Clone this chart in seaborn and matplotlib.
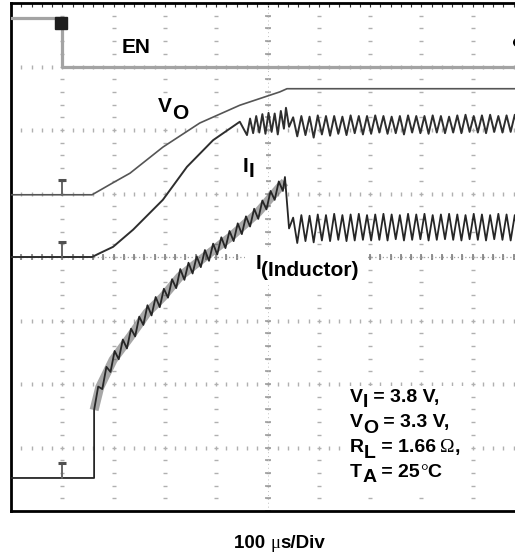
import numpy as np
import pandas as pd
import matplotlib
matplotlib.use("Agg")
import matplotlib.pyplot as plt
import seaborn as sns
from matplotlib.patches import Rectangle
from matplotlib.transforms import Bbox

# ---------------- data (screen divisions: x 0..10, y 0..8) ----------------
trigger_x = 0.99

en_x = [0.0, 0.99, 0.99, 10.2]
en_y = [7.76, 7.76, 7.00, 7.00]

vo_x = [0.0, 1.58, 1.99, 2.32, 2.96, 3.68, 4.46, 5.24, 5.38, 10.2]
vo_y = [4.98, 4.98, 5.17, 5.32, 5.73, 6.11, 6.39, 6.60, 6.65, 6.65]

ii_x = [0.0, 1.58, 1.73, 1.99, 2.38, 2.96, 3.43, 3.94, 4.46]
ii_y = [4.00, 4.00, 4.06, 4.16, 4.43, 4.90, 5.42, 5.84, 6.13]
ii_noise_x = [4.60, 4.66, 4.72, 4.78, 4.84, 4.90, 4.96, 5.02, 5.08, 5.14,
              5.20, 5.26, 5.32, 5.36, 5.42]
ii_noise_y = [5.92, 6.18, 5.95, 6.22, 5.96, 6.25, 5.94, 6.27, 5.97, 6.26,
              5.93, 6.30, 6.02, 6.35, 6.05]

ripple_top_x = [5.50, 5.66, 5.82, 5.98, 6.14, 6.30, 6.46, 6.62, 6.78, 6.94,
                7.10, 7.26, 7.42, 7.58, 7.74, 7.90, 8.06, 8.22, 8.38, 8.54,
                8.70, 8.86, 9.02, 9.18, 9.34, 9.50, 9.66, 9.82, 9.98]
ripple_bot_x = [5.58, 5.74, 5.90, 6.06, 6.22, 6.38, 6.54, 6.70, 6.86, 7.02,
                7.18, 7.34, 7.50, 7.66, 7.82, 7.98, 8.14, 8.30, 8.46, 8.62,
                8.78, 8.94, 9.10, 9.26, 9.42, 9.58, 9.74, 9.90, 10.06]
ii_top = [6.20, 6.22, 6.21, 6.23, 6.22, 6.22, 6.21, 6.23, 6.22, 6.22,
          6.23, 6.22, 6.21, 6.22, 6.23, 6.22, 6.22, 6.23, 6.22, 6.21,
          6.23, 6.24, 6.22, 6.23, 6.24, 6.22, 6.23, 6.24, 6.23]
ii_bot = [5.90, 5.92, 5.88, 5.93, 5.91, 5.94, 5.92, 5.95, 5.93, 5.94,
          5.96, 5.94, 5.95, 5.93, 5.96, 5.95, 5.94, 5.96, 5.95, 5.96,
          5.95, 5.97, 5.96, 5.95, 5.97, 5.96, 5.97, 5.96, 5.97]

ind_base_x = [0.0, 1.62, 1.62]
ind_base_y = [0.52, 0.52, 1.59]
ind_rise_x = [1.62, 1.73, 1.99, 2.32, 2.65, 2.96, 3.29, 3.74, 4.27, 4.80, 5.24, 5.34]
ind_rise_y = [1.59, 1.95, 2.38, 2.74, 3.12, 3.37, 3.69, 3.98, 4.31, 4.69, 5.10, 5.18]
ind_zz_top_x = [1.70, 1.86, 2.02, 2.18, 2.34, 2.50, 2.66, 2.82, 2.98, 3.14, 3.30, 3.46,
                3.62, 3.78, 3.94, 4.10, 4.26, 4.42, 4.58, 4.74, 4.90, 5.06, 5.22]
ind_zz_top_y = [1.96, 2.27, 2.52, 2.70, 2.87, 3.06, 3.24, 3.37, 3.50, 3.65, 3.81, 3.91,
                4.01, 4.11, 4.21, 4.31, 4.41, 4.53, 4.64, 4.76, 4.89, 5.04, 5.19]
ind_zz_bot_x = [1.78, 1.94, 2.10, 2.26, 2.42, 2.58, 2.74, 2.90, 3.06, 3.22, 3.38, 3.54,
                3.70, 3.86, 4.02, 4.18, 4.34, 4.50, 4.66, 4.82, 4.98, 5.14, 5.30]
ind_zz_bot_y = [1.92, 2.19, 2.39, 2.56, 2.75, 2.93, 3.08, 3.21, 3.36, 3.51, 3.64, 3.74,
                3.84, 3.94, 4.04, 4.14, 4.25, 4.36, 4.48, 4.60, 4.75, 4.90, 5.04]
ind_spike_x = [5.34, 5.42]
ind_spike_y = [5.26, 4.45]
ind_top = [4.62, 4.66, 4.65, 4.67, 4.66, 4.68, 4.66, 4.67, 4.68, 4.66,
           4.67, 4.68, 4.67, 4.66, 4.68, 4.67, 4.68, 4.66, 4.67, 4.68,
           4.67, 4.66, 4.68, 4.67, 4.66, 4.68, 4.67, 4.66, 4.67]
ind_bot = [4.22, 4.25, 4.23, 4.26, 4.25, 4.27, 4.25, 4.26, 4.27, 4.26,
           4.27, 4.26, 4.28, 4.26, 4.27, 4.28, 4.26, 4.27, 4.28, 4.27,
           4.26, 4.28, 4.27, 4.26, 4.28, 4.27, 4.26, 4.28, 4.27]

gnd_vo = [4.98, 5.22]
gnd_ii = [4.00, 4.24]
gnd_ind = [0.52, 0.76]

# ---------------- assemble traces ----------------
def interleave(ax_, ay_, bx_, by_):
    xs, ys = [], []
    for a, b, c, d in zip(ax_, ay_, bx_, by_):
        xs += [a, c]
        ys += [b, d]
    return xs, ys

ii_rx, ii_ry = interleave(ripple_top_x, ii_top, ripple_bot_x, ii_bot)
ii_full_x = ii_x + ii_noise_x + ii_rx
ii_full_y = ii_y + ii_noise_y + ii_ry

zz_x, zz_y = interleave(ind_zz_top_x, ind_zz_top_y, ind_zz_bot_x, ind_zz_bot_y)
ind_rx, ind_ry = interleave(ripple_top_x, ind_top, ripple_bot_x, ind_bot)
ind_full_x = ind_base_x + zz_x + ind_spike_x + ind_rx
ind_full_y = ind_base_y + zz_y + ind_spike_y + ind_ry

# ---------------- figure ----------------
sns.set_style("white")
plt.rcParams['font.family'] = ['Liberation Sans', 'DejaVu Sans']

W, H = 515, 554
fig = plt.figure(figsize=(W / 100, H / 100), dpi=100)
ax = fig.add_axes([11 / W, 43 / H, 513 / W, 508 / H])
ax.set_xlim(0, 10)
ax.set_ylim(0, 8)

# graticule
minor_x = np.arange(0, 10.001, 0.2)
minor_y = np.arange(0, 8.001, 0.2)
gcol = '#b0b0b0'
for xv in range(1, 10):
    ax.plot(np.full_like(minor_y, xv), minor_y, ls='none', marker='_',
            ms=3, mew=1.0, color=gcol, zorder=1)
for yv in range(1, 8):
    ax.plot(minor_x, np.full_like(minor_x, yv), ls='none', marker='|',
            ms=2.5, mew=1.0, color=gcol, zorder=1)
# center cross with ticks
ax.plot(np.full_like(minor_y, 5), minor_y, ls='none', marker='_', ms=4.5,
        mew=1.1, color='#999999', zorder=1)
ax.plot(minor_x, np.full_like(minor_x, 4), ls='none', marker='|', ms=4.5,
        mew=1.2, color='#808080', zorder=1)
ax.plot([5, 5], [0, 8], ls=(0, (1, 3)), lw=0.7, color='#c0c0c0', zorder=1)
ax.plot([0, 10], [4, 4], ls=(0, (1, 2)), lw=0.9, color='#a0a0a0', zorder=1)

# traces
sns.lineplot(x=en_x, y=en_y, sort=False, estimator=None, color='#a3a3a3',
             lw=2.3, ax=ax, zorder=3, legend=False)
sns.lineplot(x=vo_x, y=vo_y, sort=False, estimator=None, color='#555555',
             lw=1.2, ax=ax, zorder=3, legend=False)
sns.lineplot(x=ii_full_x, y=ii_full_y, sort=False, estimator=None,
             color='#2e2e2e', lw=1.4, ax=ax, zorder=3, legend=False)
sns.lineplot(x=ind_rise_x, y=ind_rise_y, sort=False, estimator=None,
             color='#505050', lw=6.5, alpha=0.5, ax=ax, zorder=3, legend=False,
             solid_capstyle='butt')
sns.lineplot(x=ind_full_x, y=ind_full_y, sort=False, estimator=None,
             color='#262626', lw=1.3, ax=ax, zorder=3, legend=False)

# ground reference markers
for g in (gnd_vo, gnd_ii, gnd_ind):
    ax.plot([trigger_x, trigger_x], g, color='#666666', lw=1.4, zorder=3)
    ax.plot([trigger_x], [g[1]], marker='_', ms=6, mew=2.2, color='#505050', zorder=3)

# trigger marker and channel marker
ax.plot([trigger_x - 0.02], [7.68], marker='s', ms=9, color='#1e1e1e', zorder=4)
ax.plot([9.86], [7.39], marker='o', ms=5.5, color='black', zorder=4, clip_on=False)

# frame
for side in ('left', 'top', 'bottom', 'right'):
    ax.spines[side].set_linewidth(2.0)
    ax.spines[side].set_color('black')
ax.set_xticks(np.arange(0, 10.01, 1))
ax.set_yticks(np.arange(0, 8.01, 1))
ax.set_xticks(minor_x, minor=True)
ax.set_yticks(minor_y, minor=True)
ax.tick_params(which='both', direction='in', length=3, width=0.8, color='#333333',
               top=True, right=True, labelbottom=False, labelleft=False)
ax.set_xlabel('')
ax.set_ylabel('')

# ---------------- texts ----------------
BOLD = ['Liberation Sans', 'DejaVu Sans']
SYM = ['Liberation Serif', 'DejaVu Serif']

def chain(x, y, parts, size, coords='data'):
    arts = []
    prev = None
    for txt, dy, kind in parts:
        kw = dict(fontsize=size, color='black', va='baseline', ha='left', zorder=6,
                  family=BOLD if kind == 'b' else SYM,
                  fontweight='bold' if kind == 'b' else 'normal')
        if prev is None:
            t = ax.annotate(txt, xy=(x, y), xycoords=coords, xytext=(0, dy),
                            textcoords='offset points', annotation_clip=False, **kw)
        else:
            t = ax.annotate(txt, xy=(1, y), xycoords=(prev, coords), xytext=(0, dy),
                            textcoords='offset points', annotation_clip=False, **kw)
        arts.append(t)
        prev = t
    return arts

LS = 15
labels = []
labels.append((chain(2.16, 7.21, [('EN', 0, 'b')], LS), 5))
labels.append((chain(2.87, 6.28, [('V', 0, 'b'), ('O', -5, 'b')], LS), 6))
labels.append((chain(4.52, 5.34, [('I', 0, 'b'), ('I', -4, 'b')], LS), 12))
labels.append((chain(4.76, 3.81, [('I', 0, 'b'), ('(Inductor)', -5, 'b')], LS), 10))

AS = 14
ann_x = 6.61
ann_rows = [
    (1.72, [('V', 0, 'b'), ('I', -4, 'b'), (' = 3.8 V,', 0, 'b')]),
    (1.32, [('V', 0, 'b'), ('O', -4, 'b'), (' = 3.3 V,', 0, 'b')]),
    (0.93, [('R', 0, 'b'), ('L', -4, 'b'), (' = 1.66\u2009', 0, 'b'), ('\u03a9', 0, 's'), (',', 0, 'b')]),
    (0.54, [('T', 0, 'b'), ('A', -4, 'b'), (' = 25', 0, 'b'), ('\u00b0', 0, 's'), ('C', 0, 'b')]),
]
ann_arts = []
for yy, parts in ann_rows:
    ann_arts += chain(ann_x, yy, parts, AS)
labels.append((ann_arts, 5))

chain(234, H - 548, [('100 ', 0, 'b'), ('\u03bc', 0, 's'), ('s/Div', 0, 'b')], 13.5,
      coords='figure pixels')

# white boxes behind the labels (mask graticule)
fig.canvas.draw()
r = fig.canvas.get_renderer()
inv = ax.transData.inverted()
for arts, pad in labels:
    bb = Bbox.union([a.get_window_extent(r) for a in arts])
    (x0, y0), (x1, y1) = inv.transform([[bb.x0 - pad, bb.y0 - pad / 2],
                                        [bb.x1 + pad, bb.y1 + pad / 2]])
    ax.add_patch(Rectangle((x0, y0), x1 - x0, y1 - y0, facecolor='white',
                           edgecolor='none', zorder=2))

fig.savefig('out.png', dpi=100, facecolor='white')
